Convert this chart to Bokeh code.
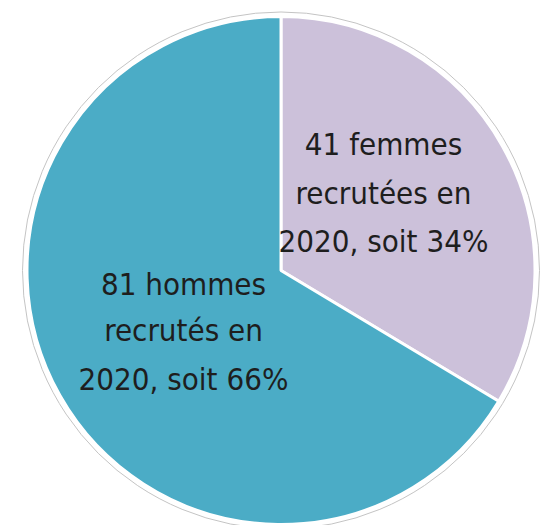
import math
from bokeh.plotting import figure
from bokeh.models import Range1d, ColumnDataSource
from bokeh.core.properties import value
from bokeh.embed import file_html
from bokeh.resources import INLINE

categories = ["femmes", "hommes"]
counts = [41, 81]
colors = ["#CCC1DA", "#4BACC6"]
label_lines = [
    ["41 femmes", "recrutées en", "2020, soit 34%"],
    ["81 hommes", "recrutés en", "2020, soit 66%"],
]

W, H = 552, 525
p = figure(width=W, height=H, output_backend="svg", toolbar_location=None,
           x_range=Range1d(0, W), y_range=Range1d(0, H),
           min_border=0, outline_line_color=None)
p.axis.visible = False
p.grid.visible = False
p.background_fill_color = "white"
p.border_fill_color = "white"

cx, cy_img = 280.5, 270
cy = H - cy_img
R = 254

total = sum(counts)
starts, ends = [], []
ang = math.pi / 2  # start at 12 o'clock, go clockwise
for c in counts:
    span = 2 * math.pi * c / total
    ends.append(ang)
    starts.append(ang - span)
    ang -= span

# outer thin grey ring
p.circle(x=[cx], y=[cy], radius=258.5, fill_color=None, line_color="#c4c4c4", line_width=1)

src = ColumnDataSource(dict(start=starts, end=ends, color=colors, cat=categories))
p.wedge(x=cx, y=cy, radius=R, start_angle="start", end_angle="end",
        fill_color="color", line_color="white", line_width=3, source=src)

# labels
label_centers = [(383, [143, 192, 240]), (183, [283, 329, 378])]
font = value("DejaVu Sans Condensed")
for (lx, ys), lines in zip(label_centers, label_lines):
    p.text(x=[lx] * len(lines), y=[H - y for y in ys], text=lines,
           text_align="center", text_baseline="middle",
           text_font=font, text_font_size="31px", text_color="#1e1e1e")

open("out.html", "w").write(file_html(p, INLINE))
